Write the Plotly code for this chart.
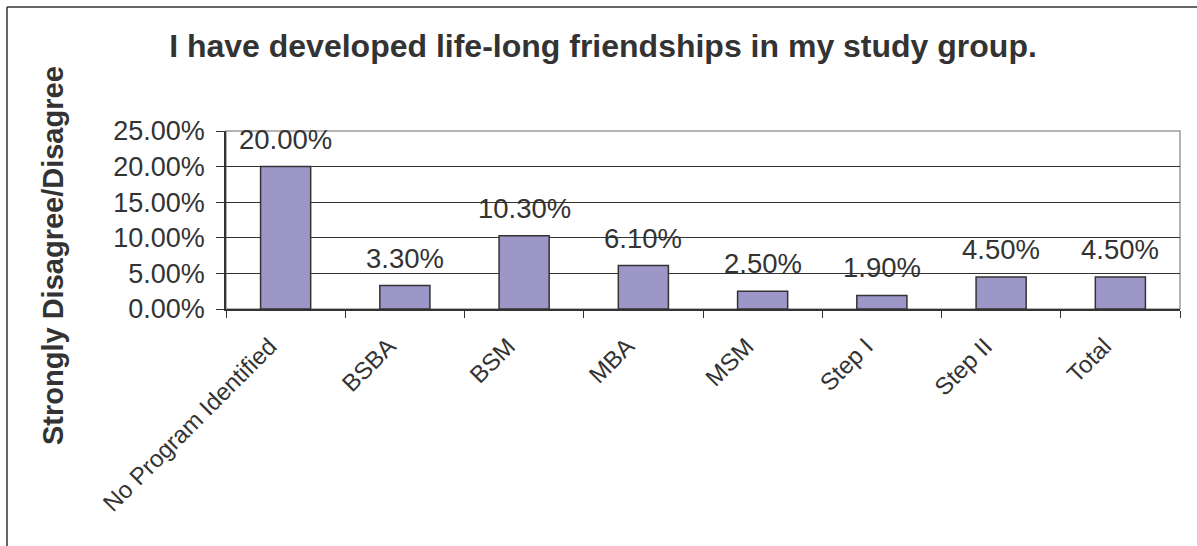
import plotly.graph_objects as go

categories = ["No Program Identified", "BSBA", "BSM", "MBA", "MSM", "Step I", "Step II", "Total"]
values = [0.200, 0.033, 0.103, 0.061, 0.025, 0.019, 0.045, 0.045]
labels = ["20.00%", "3.30%", "10.30%", "6.10%", "2.50%", "1.90%", "4.50%", "4.50%"]
y_ticks = [0, 0.05, 0.10, 0.15, 0.20, 0.25]

TXT = "#333333"
W, H = 1197, 546
L, R, T, B = 226, 17, 131, 237
pw, ph = W - L - R, H - T - B

def px_x(x):
    return (x - L) / pw

def px_y(y):
    return (H - B - y) / ph

fig = go.Figure()
fig.add_trace(go.Bar(
    x=categories, y=values, width=0.42,
    marker=dict(color="#9d97c8", line=dict(color="#333333", width=1.5)),
    hoverinfo="skip",
))

for c, v, t in zip(categories, values, labels):
    fig.add_annotation(x=c, y=v, text=t, showarrow=False, yanchor="bottom",
                       yshift=10, font=dict(family="Arial, Liberation Sans", size=27.5, color=TXT))

fig.add_annotation(xref="paper", yref="paper", x=px_x(53), y=px_y(256),
                   text="<b>Strongly Disagree/Disagree</b>", textangle=-90, showarrow=False,
                   xanchor="center", yanchor="middle",
                   font=dict(family="Arial, Liberation Sans", size=29, color=TXT))

# plot area border (gray top/right)
fig.add_shape(type="rect", xref="paper", yref="paper", x0=0, x1=1, y0=0, y1=1,
              line=dict(color="#a09a9a", width=1.5), layer="between")
# outer chart frame
fig.add_shape(type="line", xref="paper", yref="paper", x0=px_x(7), x1=px_x(7),
              y0=px_y(7), y1=px_y(560), line=dict(color="#333333", width=1.5))
fig.add_shape(type="line", xref="paper", yref="paper", x0=px_x(7), x1=px_x(1210),
              y0=px_y(7), y1=px_y(7), line=dict(color="#333333", width=1.5))

fig.update_layout(
    width=W, height=H,
    margin=dict(l=L, r=R, t=T, b=B, autoexpand=False),
    paper_bgcolor="white", plot_bgcolor="white",
    showlegend=False,
    font=dict(family="Arial, Liberation Sans", color=TXT),
    title=dict(text="<b>I have developed life-long friendships in my study group.</b>",
               x=603 / W, xanchor="center", xref="container",
               y=1 - 46 / H, yanchor="middle", yref="container",
               font=dict(size=32, color=TXT)),
    xaxis=dict(
        type="category", tickangle=-45, tickson="boundaries",
        ticks="outside", ticklen=7, tickcolor="#333333", tickwidth=1,
        showline=True, linecolor="#333333", linewidth=1.5,
        showgrid=False, tickfont=dict(size=24, color=TXT),
        ticklabelshift=-16, ticklabelstandoff=12,
    ),
    yaxis=dict(
        range=[0, 0.25], tickvals=y_ticks, tickformat=".2%",
        ticks="outside", ticklen=8, tickcolor="#333333", tickwidth=1,
        showline=True, linecolor="#333333", linewidth=1.5,
        showgrid=True, gridcolor="#333333", gridwidth=1,
        zeroline=False, tickfont=dict(size=27, color=TXT),
        ticklabelstandoff=6,
    ),
)

fig.write_html("out.html", config={"displayModeBar": False},
               post_script="document.body.style.margin='0';")
